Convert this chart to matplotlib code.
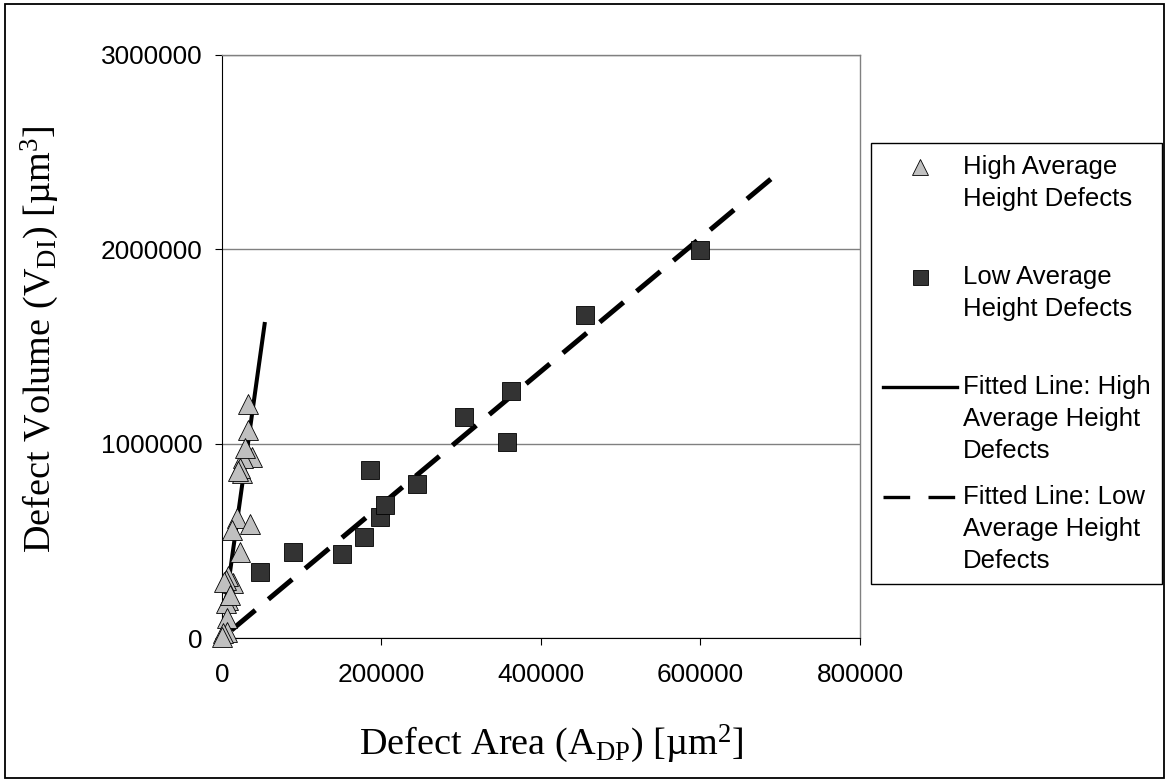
import matplotlib
matplotlib.use('Agg')
import matplotlib.pyplot as plt
from matplotlib.lines import Line2D
from matplotlib.legend_handler import HandlerLine2D
from matplotlib.patches import Rectangle
from matplotlib.font_manager import FontProperties

plt.rcParams['font.family'] = 'Liberation Sans'
plt.rcParams['mathtext.fontset'] = 'custom'
plt.rcParams['mathtext.rm'] = 'Liberation Serif'
plt.rcParams['mathtext.it'] = 'Liberation Serif:italic'
plt.rcParams['mathtext.bf'] = 'Liberation Serif:bold'

# High average height defects (grey triangles)
high_area = [32900, 32900, 37200, 25900, 28800, 24600, 22500, 20500, 18400,
             35100, 12100, 22500, 14200, 7900, 5000, 3000, 7900, 4600, 5800,
             5800, 1700, 500, 10000]
high_volume = [1204000, 1069000, 931000, 926000, 978000, 847000, 875000, 860000,
               616000, 587000, 556000, 444000, 281000, 319000, 300000, 290000,
               195000, 180000, 101000, 33000, 25000, 5000, 220000]

# Low average height defects (dark squares)
low_area = [47600, 88500, 150300, 178200, 185700, 198700, 204100, 244600,
            303400, 357300, 362300, 454600, 599800]
low_volume = [338000, 444000, 432000, 518000, 863000, 621000, 684000, 791000,
              1136000, 1010000, 1272000, 1662000, 1996000]

# Fitted lines: end points as drawn on the chart
fit_high_area = [3000, 53850]
fit_high_volume = [131000, 1626000]
fit_low_area = [12000, 696000]
fit_low_volume = [41000, 2388000]

x_ticks = [0, 200000, 400000, 600000, 800000]
y_ticks = [0, 1000000, 2000000, 3000000]

legend_labels = ["High Average\nHeight Defects\n",
                 "Low Average\nHeight Defects\n",
                 "Fitted Line: High\nAverage Height\nDefects",
                 "Fitted Line: Low\nAverage Height\nDefects"]

TICK_FS = 18.9
LEG_FS = 18.5
LINE_PITCH_PX = 32   # distance between legend text lines


class FirstLineHandler(HandlerLine2D):
    "Draw the legend handle beside the first line of a multi-line label."
    def __init__(self, shift, **kw):
        super().__init__(**kw)
        self.shift = shift

    def create_artists(self, legend, orig_handle, xdescent, ydescent,
                       width, height, fontsize, trans):
        return super().create_artists(legend, orig_handle, xdescent,
                                      ydescent - 2 * self.shift, width, height,
                                      fontsize, trans)


fig = plt.figure(figsize=(11.67, 7.82), dpi=100)
ax = fig.add_axes([0.1902, 0.1841, 0.5467, 0.7456])

dash = (0, (6.2, 3.4))
ax.plot(fit_high_area, fit_high_volume, color='k', lw=2.9, zorder=3,
        solid_capstyle='butt')
ax.plot(fit_low_area, fit_low_volume, color='k', lw=3.6, ls=dash, zorder=3)
ax.plot(high_area, high_volume, ls='none', marker='^', ms=14.5,
        mfc='#C0C0C0', mec='k', mew=0.6, clip_on=False, zorder=4)
ax.plot(low_area, low_volume, ls='none', marker='s', ms=13.5,
        mfc='#333333', mec='k', mew=0.6, clip_on=False, zorder=4)

ax.set_xlim(0, 800000)
ax.set_ylim(0, 3000000)
ax.set_xticks(x_ticks)
ax.set_yticks(y_ticks)
ax.set_xticklabels([str(v) for v in x_ticks])
ax.set_yticklabels([str(v) for v in y_ticks])
ax.tick_params(axis='both', labelsize=TICK_FS, length=5, width=0.8,
               direction='out', color='k')
ax.tick_params(axis='x', pad=13)
ax.tick_params(axis='y', pad=9)
ax.grid(axis='y', color='#808080', lw=1)
ax.set_axisbelow(True)
for side in ('top', 'right'):
    ax.spines[side].set_color('#808080')
    ax.spines[side].set_linewidth(1)
for side in ('left', 'bottom'):
    ax.spines[side].set_color('k')
    ax.spines[side].set_linewidth(0.8)

serif = 'Liberation Serif'
fig.text(551 / 1167, 1 - 744 / 782,
         'Defect Area (A$_{\\mathrm{DP}}$) [\u00b5m$^{2}$]',
         family=serif, fontsize=27.5, ha='center', va='center')
fig.text(40 / 1167, 1 - 339 / 782,
         'Defect Volume (V$_{\\mathrm{DI}}$) [\u00b5m$^{3}$]',
         family=serif, fontsize=27.5, ha='center', va='center', rotation=90)

# legend: line spacing chosen so text lines sit LINE_PITCH_PX apart,
# handle aligned with the first text line
renderer = fig.canvas.get_renderer()
w, h, d = renderer.get_text_width_height_descent(
    'lp', FontProperties(family='Liberation Sans', size=LEG_FS), ismath=False)
linespacing = (LINE_PITCH_PX - d) / (h - d)
pitch = LINE_PITCH_PX * 72 / fig.dpi

handles = [Line2D([], [], ls='none', marker='^', ms=14.5, mfc='#C0C0C0',
                  mec='k', mew=0.6),
           Line2D([], [], ls='none', marker='s', ms=13.5, mfc='#333333',
                  mec='k', mew=0.6),
           Line2D([], [], color='k', lw=2.4),
           Line2D([], [], color='k', lw=2.4, ls=(0, (8, 5.5)))]
leg = fig.legend(handles, legend_labels, loc='upper left',
                 bbox_to_anchor=(871 / 1167, 1 - 143 / 782), borderaxespad=0,
                 fontsize=LEG_FS, numpoints=1, markerscale=0.8,
                 handlelength=2.9, handletextpad=0.22, borderpad=0.45,
                 labelspacing=0.86, fancybox=False, edgecolor='k',
                 framealpha=1,
                 handler_map={h_: FirstLineHandler(pitch, numpoints=1)
                              for h_ in handles})
leg.get_frame().set_linewidth(1)
for t in leg.get_texts():
    t.set_linespacing(linespacing)

fig.patches.append(Rectangle((0.0043, 0.0051), 0.9931, 0.9898,
                             transform=fig.transFigure, fill=False,
                             ec='k', lw=1.3))

fig.savefig('out.png', dpi=100)
